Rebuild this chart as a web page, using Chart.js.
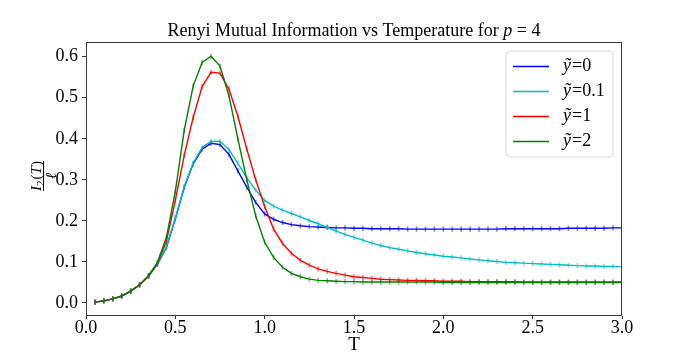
<!DOCTYPE html>
<html>
<head>
<meta charset="utf-8">
<script src="https://cdn.jsdelivr.net/npm/chart.js@4.4.1/dist/chart.umd.min.js"></script>
<style>
  html, body { margin: 0; padding: 0; background: #fff; }
  #wrap { width: 692px; height: 355px; position: relative; }
</style>
</head>
<body>
<div id="wrap"><canvas id="c" width="692" height="355"></canvas></div>
<script>
// ---- Data ----
const temps = [0.05,0.10,0.15,0.20,0.25,0.30,0.35,0.40,0.45,0.50,
               0.55,0.60,0.65,0.70,0.75,0.80,0.85,0.90,0.95,1.00,
               1.05,1.10,1.15,1.20,1.25,1.30,1.35,1.40,1.45,1.50,
               1.55,1.60,1.65,1.70,1.75,1.80,1.85,1.90,1.95,2.00,
               2.05,2.10,2.15,2.20,2.25,2.30,2.35,2.40,2.45,2.50,
               2.55,2.60,2.65,2.70,2.75,2.80,2.85,2.90,2.95,3.00];

const y0 = [0.002,0.005,0.010,0.017,0.029,0.044,0.065,0.094,0.135,0.205,
            0.282,0.339,0.375,0.389,0.386,0.362,0.322,0.282,0.245,0.217,
            0.204,0.196,0.191,0.188,0.186,0.185,0.184,0.183,0.183,0.182,
            0.182,0.181,0.181,0.181,0.181,0.180,0.180,0.180,0.180,0.180,
            0.180,0.180,0.180,0.180,0.180,0.180,0.181,0.181,0.181,0.181,
            0.181,0.181,0.181,0.182,0.182,0.182,0.182,0.182,0.183,0.183];

const y01 = [0.002,0.005,0.010,0.017,0.029,0.044,0.065,0.095,0.137,0.207,
             0.284,0.341,0.379,0.394,0.394,0.374,0.340,0.305,0.275,0.250,
             0.236,0.226,0.218,0.210,0.201,0.193,0.184,0.175,0.167,0.160,
             0.153,0.146,0.140,0.135,0.131,0.127,0.123,0.120,0.117,0.114,
             0.112,0.110,0.107,0.105,0.103,0.101,0.099,0.098,0.097,0.096,
             0.095,0.094,0.093,0.092,0.091,0.090,0.090,0.089,0.089,0.088];

const y1 = [0.002,0.005,0.010,0.017,0.029,0.044,0.066,0.097,0.150,0.250,
            0.360,0.452,0.527,0.562,0.560,0.521,0.455,0.375,0.300,0.235,
            0.180,0.145,0.121,0.104,0.092,0.083,0.077,0.072,0.068,0.064,
            0.062,0.060,0.058,0.057,0.056,0.055,0.055,0.054,0.054,0.053,
            0.053,0.053,0.052,0.052,0.052,0.052,0.052,0.052,0.051,0.051,
            0.051,0.051,0.051,0.051,0.051,0.051,0.051,0.051,0.051,0.051];

const y2 = [0.002,0.005,0.010,0.017,0.029,0.045,0.067,0.099,0.160,0.272,
            0.421,0.529,0.586,0.601,0.577,0.505,0.400,0.300,0.212,0.148,
            0.111,0.087,0.072,0.064,0.058,0.055,0.054,0.053,0.052,0.052,
            0.051,0.051,0.051,0.051,0.051,0.051,0.051,0.051,0.051,0.050,
            0.050,0.050,0.050,0.050,0.050,0.050,0.050,0.050,0.050,0.050,
            0.050,0.050,0.050,0.050,0.050,0.050,0.050,0.050,0.050,0.050];

const seriesLabels = ["0", "0.1", "1", "2"];
const xTicks = [0.0, 0.5, 1.0, 1.5, 2.0, 2.5, 3.0];
const yTicks = [0.0, 0.1, 0.2, 0.3, 0.4, 0.5, 0.6];
const titleMain = "Renyi Mutual Information vs Temperature for ";
const titleVar = "p";
const titleEnd = " = 4";
const xTitle = "T";

// ---- Styling ----
const FONT = "'Liberation Serif', 'DejaVu Serif', serif";
const colors = ["#0000ff", "#00bfbf", "#ff0000", "#008000"];
const markColors = ["rgba(0,0,255,0.5)", "rgba(0,191,191,0.5)", "rgba(255,0,0,0.5)", "rgba(0,128,0,0.5)"];
const allSeries = [y0, y01, y1, y2];

const datasets = allSeries.map((vals, i) => ({
  label: "ỹ=" + seriesLabels[i],
  data: temps.map((t, k) => ({ x: t, y: vals[k] })),
  borderColor: colors[i],
  backgroundColor: colors[i],
  borderWidth: 1.4,
  pointStyle: 'line',
  pointRotation: 90,
  pointRadius: 2.6,
  pointBorderWidth: 1.6,
  pointBorderColor: markColors[i],
  pointBackgroundColor: markColors[i],
  pointHoverRadius: 2.6,
  tension: 0,
  fill: false,
  order: 4 - i
}));

const framePlugin = {
  id: 'frame',
  afterDatasetsDraw(chart) {
    const { ctx, chartArea: a } = chart;
    ctx.save();
    ctx.strokeStyle = '#3a3a3a';
    ctx.lineWidth = 1;
    ctx.strokeRect(Math.round(a.left) + 0.5, Math.round(a.top) + 0.5,
                   Math.round(a.right - a.left) - 1, Math.round(a.bottom - a.top) - 1);
    ctx.restore();
  }
};

const textPlugin = {
  id: 'texts',
  afterDraw(chart) {
    const { ctx, chartArea: a } = chart;
    ctx.save();
    ctx.fillStyle = '#000';
    // Title with italic variable
    const fN = "18px " + FONT, fI = "italic 18px " + FONT;
    ctx.font = fN; const w1 = ctx.measureText(titleMain).width;
    const w3 = ctx.measureText(titleEnd).width;
    ctx.font = fI; const w2 = ctx.measureText(titleVar).width;
    const cx = (a.left + a.right) / 2;
    let x = cx - (w1 + w2 + w3) / 2;
    const ty = 36;
    ctx.textBaseline = 'alphabetic'; ctx.textAlign = 'left';
    ctx.font = fN; ctx.fillText(titleMain, x, ty); x += w1;
    ctx.font = fI; ctx.fillText(titleVar, x, ty); x += w2;
    ctx.font = fN; ctx.fillText(titleEnd, x, ty);

    // X axis title
    ctx.font = "19px " + FONT; ctx.textAlign = 'center';
    ctx.fillText(xTitle, cx, 350);

    // Y axis label: fraction I_2(T) / ell, rotated
    ctx.save();
    ctx.translate(44, 176);
    ctx.rotate(-Math.PI / 2);
    const fs = 15;
    ctx.font = "italic " + fs + "px " + FONT;
    const wI = ctx.measureText("I").width;
    ctx.font = Math.round(fs * 0.7) + "px " + FONT;
    const w2s = ctx.measureText("2").width;
    ctx.font = fs + "px " + FONT;
    const wp1 = ctx.measureText("(").width;
    ctx.font = "italic " + fs + "px " + FONT;
    const wT = ctx.measureText("T").width;
    ctx.font = fs + "px " + FONT;
    const wp2 = ctx.measureText(")").width;
    const numW = wI + w2s + wp1 + wT + wp2 + 1;
    let nx = -numW / 2;
    const nb = -3;
    ctx.textAlign = 'left';
    ctx.font = "italic " + fs + "px " + FONT; ctx.fillText("I", nx, nb); nx += wI;
    ctx.font = Math.round(fs * 0.7) + "px " + FONT; ctx.fillText("2", nx, nb + 3); nx += w2s + 1;
    ctx.font = fs + "px " + FONT; ctx.fillText("(", nx, nb); nx += wp1;
    ctx.font = "italic " + fs + "px " + FONT; ctx.fillText("T", nx, nb); nx += wT;
    ctx.font = fs + "px " + FONT; ctx.fillText(")", nx, nb);
    ctx.fillRect(-numW / 2, -1, numW, 1);
    ctx.textAlign = 'center';
    ctx.font = "italic " + fs + "px " + FONT; ctx.fillText("ℓ", 0, 12);
    ctx.restore();

    // Legend
    const lx = 506, ly = 51, lw = 107, lh = 106, r = 4;
    ctx.beginPath();
    ctx.moveTo(lx + r, ly);
    ctx.arcTo(lx + lw, ly, lx + lw, ly + lh, r);
    ctx.arcTo(lx + lw, ly + lh, lx, ly + lh, r);
    ctx.arcTo(lx, ly + lh, lx, ly, r);
    ctx.arcTo(lx, ly, lx + lw, ly, r);
    ctx.closePath();
    ctx.fillStyle = 'rgba(255,255,255,0.8)';
    ctx.fill();
    ctx.strokeStyle = '#d8d8d8';
    ctx.lineWidth = 1;
    ctx.stroke();
    const rows = [66, 91, 116, 141];
    chart.data.datasets.forEach((ds, i) => {
      const yy = rows[i];
      ctx.strokeStyle = ds.borderColor;
      ctx.lineWidth = 1.4;
      ctx.beginPath(); ctx.moveTo(513, yy + 0.5); ctx.lineTo(549, yy + 0.5); ctx.stroke();
      ctx.fillStyle = '#000';
      ctx.textAlign = 'left'; ctx.textBaseline = 'middle';
      ctx.font = "italic 18px " + FONT;
      ctx.fillText("ỹ", 563, yy);
      const wy = ctx.measureText("ỹ").width;
      ctx.font = "18px " + FONT;
      ctx.fillText("=" + seriesLabels[i], 563 + wy + 1, yy);
    });
    ctx.restore();
  }
};

new Chart(document.getElementById('c'), {
  type: 'line',
  data: { datasets },
  options: {
    responsive: false,
    animation: false,
    devicePixelRatio: 1,
    layout: { padding: { left: 0, right: 70, top: 42, bottom: 0 } },
    plugins: {
      legend: { display: false },
      title: { display: false },
      tooltip: { enabled: false }
    },
    scales: {
      x: {
        type: 'linear',
        min: 0, max: 3.0,
        afterBuildTicks: (s) => { s.ticks = xTicks.map(v => ({ value: v })); },
        afterFit: (s) => { s.height = 39; },
        border: { display: false },
        grid: { drawOnChartArea: false, drawTicks: true, tickLength: 3, color: '#333' },
        ticks: {
          color: '#000', padding: -2, maxRotation: 0,
          font: { family: FONT, size: 18 },
          callback: (v) => Number(v).toFixed(1)
        }
      },
      y: {
        type: 'linear',
        min: -0.0317, max: 0.6358,
        afterBuildTicks: (s) => { s.ticks = yTicks.map(v => ({ value: v })); },
        afterFit: (s) => { s.width = 86; },
        border: { display: false },
        grid: { drawOnChartArea: false, drawTicks: true, tickLength: 4, color: '#333' },
        ticks: {
          color: '#000', padding: 4,
          font: { family: FONT, size: 18 },
          callback: (v) => Number(v).toFixed(1)
        }
      }
    }
  },
  plugins: [framePlugin, textPlugin]
});
</script>
</body>
</html>
